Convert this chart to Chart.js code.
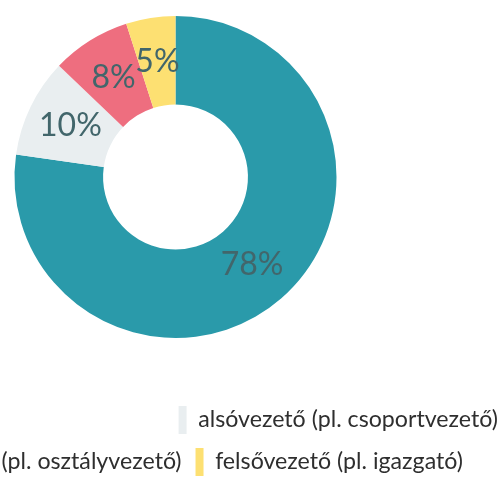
<!DOCTYPE html>
<html>
<head>
<meta charset="utf-8">
<script src="https://cdn.jsdelivr.net/npm/chart.js@4.4.0/dist/chart.umd.min.js"></script>
<style>
    html, body { margin: 0; padding: 0; background: #fff; overflow: hidden; width: 501px; height: 477px; }
    #doboz { position: absolute; top: 0; }
</style>
</head>
<body>
<div id="doboz"><canvas id="miGrafico"></canvas></div>
<script>
// adatok
const labels = ['nem vezető', 'alsóvezető (pl. csoportvezető)', 'középvezető (pl. osztályvezető)', 'felsővezető (pl. igazgató)'];
const values = [78, 10, 8, 5];
const colors = ['#2a9aaa', '#e9eef0', '#ee6e7f', '#fde072'];

// legend meretek
const F = 23.2, P = 14, BW = 8, BH = 28;
const fontFam = 'Lato';

// a kep bal oldala le van vagva, ezert a vasznat balra toljuk
const m = document.createElement('canvas').getContext('2d');
m.font = F + 'px ' + fontFam;
const wK = m.measureText(labels[2]).width;
const wA = m.measureText(labels[1]).width;
const x0 = 182 - wK - BW - F / 2;
const innerW = Math.round(2 * (176 - x0 + P));
const left = x0 - P;
const H = 486;
let wT = Math.min(185 - x0 - BW - F / 2 - P, innerW - (BW + F / 2 + wA) - 3 * P - (BW + F / 2) - 1);

const cv = document.getElementById('miGrafico');
cv.width = innerW;
cv.height = H;
document.getElementById('doboz').style.left = left + 'px';

const szazalek = {
    id: 'szazalek',
    afterDatasetsDraw(chart) {
        const ctx = chart.ctx;
        const meta = chart.getDatasetMeta(0);
        ctx.save();
        ctx.font = '32px ' + fontFam;
        ctx.fillStyle = '#42666b';
        ctx.textAlign = 'center';
        ctx.textBaseline = 'middle';
        meta.data.forEach((arc, i) => {
            const p = arc.getCenterPoint();
            ctx.fillText(values[i] + '%', p.x, p.y);
        });
        ctx.restore();
    }
};

var ctx = cv.getContext('2d');
var myChart = new Chart(ctx, {
    type: 'doughnut',
    data: {
        labels: labels,
        datasets: [{
            data: values,
            backgroundColor: colors,
            borderWidth: 0
        }]
    },
    options: {
        responsive: false,
        animation: false,
        devicePixelRatio: 1,
        cutout: '45%',
        radius: 161,
        plugins: {
            tooltip: { enabled: false },
            legend: {
                position: 'bottom',
                align: 'start',
                title: {
                    display: true,
                    text: ' ',
                    font: { size: 10, lineHeight: 1 },
                    padding: { top: 14, bottom: 14 }
                },
                labels: {
                    boxWidth: BW,
                    boxHeight: BH,
                    padding: P,
                    color: '#2e2e2e',
                    font: { size: F, family: fontFam },
                    generateLabels: (chart) => {
                        const items = Chart.overrides.doughnut.plugins.legend.labels.generateLabels(chart);
                        let t = items[0].text;
                        while (m.measureText(t + ' ').width <= wT) t += ' ';
                        items[0].text = t;
                        return items;
                    }
                }
            }
        }
    },
    plugins: [szazalek]
});
</script>
</body>
</html>
